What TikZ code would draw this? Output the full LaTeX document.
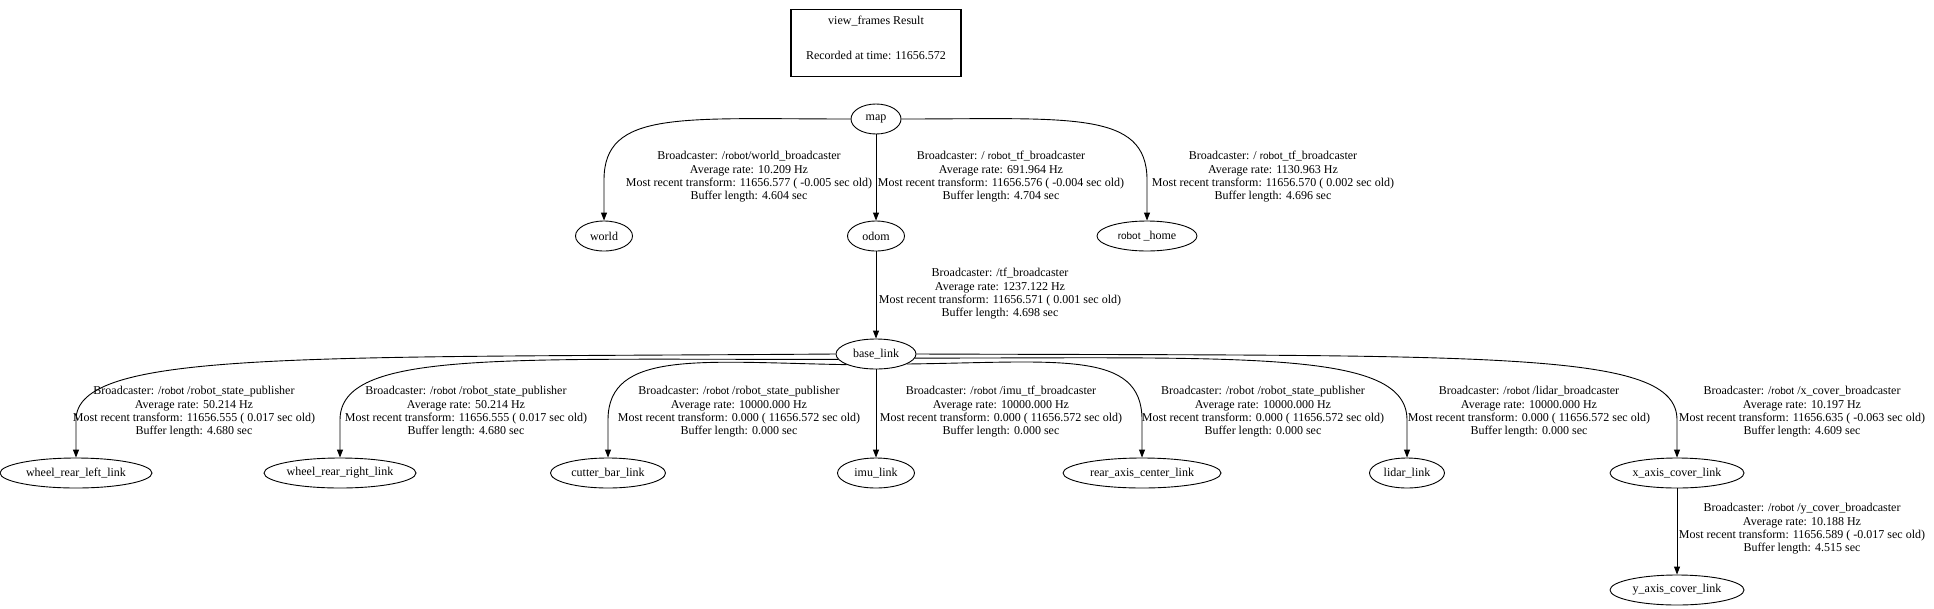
\documentclass[tikz,border=0pt]{standalone}
\usepackage{fontspec}
\setmainfont{Liberation Serif}
\newfontfamily\rbfont{Liberation Sans}
\usetikzlibrary{arrows.meta,shapes.geometric}
\newcommand\rbt{{\rbfont\fontsize{10}{12}\selectfont robot}}
\begin{document}
\begin{tikzpicture}[x=1pt,y=-1pt,
  every node/.style={font=\fontsize{12}{13.3}\selectfont},
  frame/.style={draw, ellipse, line width=0.9pt, minimum height=30pt, minimum width=#1, inner sep=0pt},
  lbl/.style={align=center, inner sep=0pt},
  tfedge/.style={draw, line width=0.9pt, -{Triangle[length=8pt,width=6pt]}}]
\useasboundingbox (0,0) rectangle (1934,608);
% title
\node[draw, line width=1.8pt, minimum width=170pt, minimum height=67pt] (title) at (876,43) {};
\node (t1) at (876,21) {view\_frames Result};
\node (t2) at (876,55) {Recorded at time: 11656.572};
% frames
\node[frame=50pt] (map) at (876,119) {map};
\node[frame=57pt] (world) at (604,236) {world};
\node[frame=57pt] (odom) at (876,236) {odom};
\node[frame=100pt] (home) at (1147,236) {\rbt\ \_home};
\node[frame=80pt] (base) at (876,354) {base\_link};
\node[frame=152pt] (wrl) at (76,473) {wheel\_rear\_left\_link};
\node[frame=152pt] (wrr) at (340,473) {wheel\_rear\_right\_link};
\node[frame=115pt] (cut) at (608,473) {cutter\_bar\_link};
\node[frame=77pt] (imu) at (876,473) {imu\_link};
\node[frame=158pt] (rear) at (1142,473) {rear\_axis\_center\_link};
\node[frame=75pt] (lidar) at (1407,473) {lidar\_link};
\node[frame=134pt] (xc) at (1677,473) {x\_axis\_cover\_link};
\node[frame=134pt] (yc) at (1677,590) {y\_axis\_cover\_link};
% labels
\node[lbl] (lworld) at (749,177) {Broadcaster: /\rbt/world\_broadcaster\\Average rate: 10.209 Hz\\Most recent transform: 11656.577 ( -0.005 sec old)\\Buffer length: 4.604 sec};
\node[lbl] (lodom) at (1001,177) {Broadcaster: / \rbt\_tf\_broadcaster\\Average rate: 691.964 Hz\\Most recent transform: 11656.576 ( -0.004 sec old)\\Buffer length: 4.704 sec};
\node[lbl] (lhome) at (1273,177) {Broadcaster: / \rbt\_tf\_broadcaster\\Average rate: 1130.963 Hz\\Most recent transform: 11656.570 ( 0.002 sec old)\\Buffer length: 4.696 sec};
\node[lbl] (lbase) at (1000,294) {Broadcaster: /tf\_broadcaster\\Average rate: 1237.122 Hz\\Most recent transform: 11656.571 ( 0.001 sec old)\\Buffer length: 4.698 sec};
\node[lbl] (lwrl) at (194,412) {Broadcaster: /\rbt\ /robot\_state\_publisher\\Average rate: 50.214 Hz\\Most recent transform: 11656.555 ( 0.017 sec old)\\Buffer length: 4.680 sec};
\node[lbl] (lwrr) at (466,412) {Broadcaster: /\rbt\ /robot\_state\_publisher\\Average rate: 50.214 Hz\\Most recent transform: 11656.555 ( 0.017 sec old)\\Buffer length: 4.680 sec};
\node[lbl] (lcut) at (739,412) {Broadcaster: /\rbt\ /robot\_state\_publisher\\Average rate: 10000.000 Hz\\Most recent transform: 0.000 ( 11656.572 sec old)\\Buffer length: 0.000 sec};
\node[lbl] (limu) at (1001,412) {Broadcaster: /\rbt\ /imu\_tf\_broadcaster\\Average rate: 10000.000 Hz\\Most recent transform: 0.000 ( 11656.572 sec old)\\Buffer length: 0.000 sec};
\node[lbl] (lrear) at (1263,412) {Broadcaster: /robot /robot\_state\_publisher\\Average rate: 10000.000 Hz\\Most recent transform: 0.000 ( 11656.572 sec old)\\Buffer length: 0.000 sec};
\node[lbl] (llidar) at (1529,412) {Broadcaster: /\rbt\ /lidar\_broadcaster\\Average rate: 10000.000 Hz\\Most recent transform: 0.000 ( 11656.572 sec old)\\Buffer length: 0.000 sec};
\node[lbl] (lxc) at (1802,412) {Broadcaster: /\rbt\ /x\_cover\_broadcaster\\Average rate: 10.197 Hz\\Most recent transform: 11656.635 ( -0.063 sec old)\\Buffer length: 4.609 sec};
\node[lbl] (lyc) at (1802,529) {Broadcaster: /\rbt\ /y\_cover\_broadcaster\\Average rate: 10.188 Hz\\Most recent transform: 11656.589 ( -0.017 sec old)\\Buffer length: 4.515 sec};
% edges
\path[tfedge] (map.west) .. controls (680,119) and (604,110) .. (604,180) -- (world.north);
\path[tfedge] (map) -- (odom);
\path[tfedge] (map.east) .. controls (1070,119) and (1147,110) .. (1147,180) -- (home.north);
\path[tfedge] (odom) -- (base);
\path[tfedge] (base.west) .. controls (300,358) and (76,350) .. (76,420) -- (wrl.north);
\path[tfedge] (base.188) .. controls (500,360) and (340,350) .. (340,420) -- (wrr.north);
\path[tfedge] (base.200) .. controls (700,362) and (608,350) .. (608,420) -- (cut.north);
\path[tfedge] (base) -- (imu);
\path[tfedge] (base.-18) .. controls (1060,362) and (1142,350) .. (1142,420) -- (rear.north);
\path[tfedge] (base.-6) .. controls (1250,358) and (1407,350) .. (1407,420) -- (lidar.north);
\path[tfedge] (base.east) .. controls (1500,356) and (1677,350) .. (1677,420) -- (xc.north);
\path[tfedge] (xc) -- (yc);
\end{tikzpicture}
\end{document}
